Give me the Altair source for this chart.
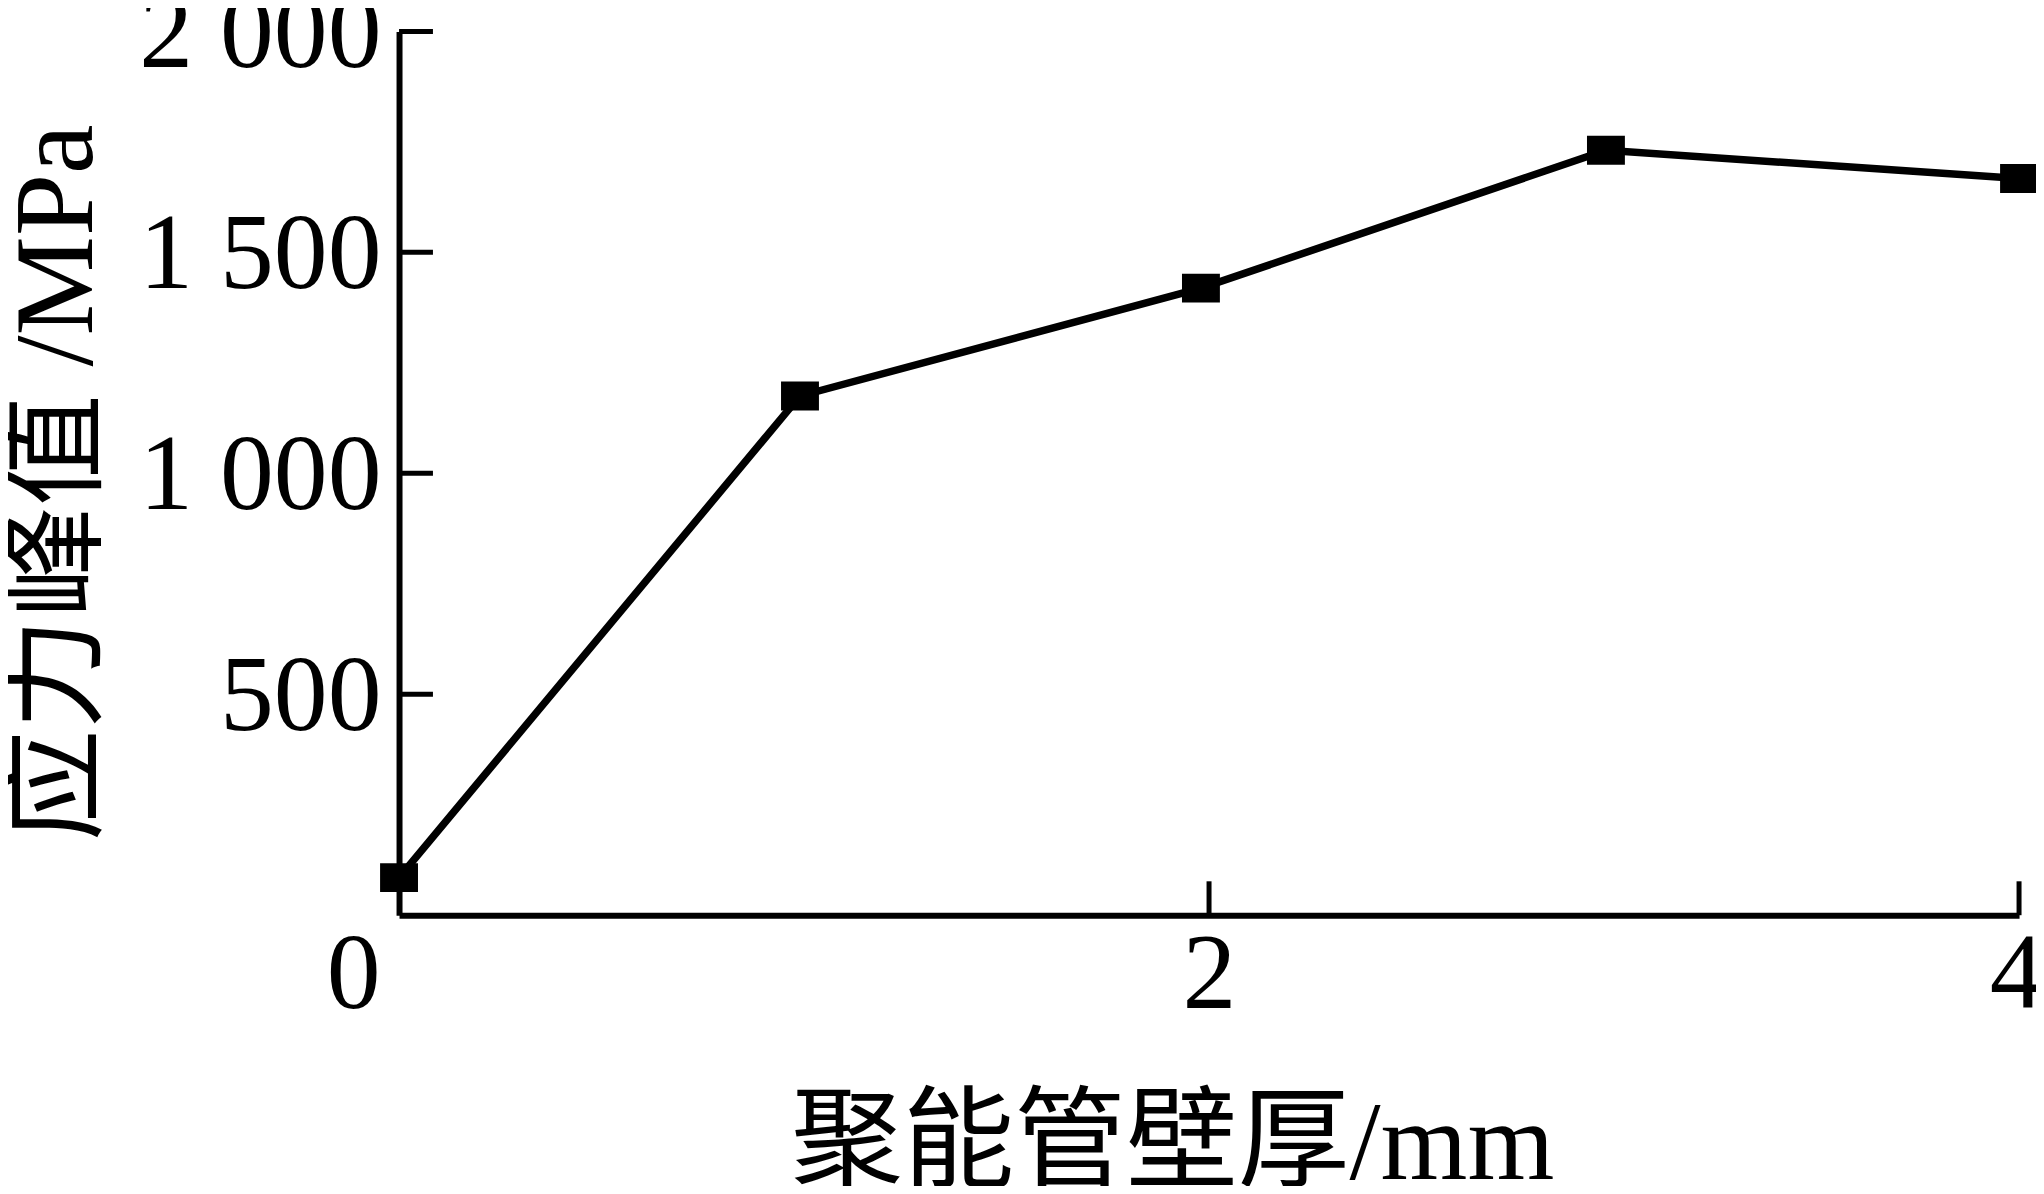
import altair as alt
import pandas as pd

# data
thickness = [0, 0.99, 1.98, 2.98, 4]
stress = [85, 1175, 1419, 1731, 1667]

x_tick_values = [0, 2, 4]
x_tick_labels = ["0", "2", "4"]
y_tick_values = [500, 1000, 1500, 2000]
y_tick_labels = ["500", "1 000", "1 500", "2 000"]

x_title = "聚能管壁厚/mm"
y_title = "应力峰值 /MPa"

W, H = 1624, 886
TICK_LEN = 34
FONT = "Liberation Serif, Noto Sans CJK SC"


def label_expr(values, labels):
    expr = "''"
    for v, l in reversed(list(zip(values, labels))):
        expr = f"datum.value == {v} ? '{l}' : ({expr})"
    return expr


df = pd.DataFrame({"t": thickness, "s": stress})
yt = pd.DataFrame({"v": y_tick_values})
xt = pd.DataFrame({"v": [v for v in x_tick_values if v != 0]})

xscale = alt.Scale(domain=[0, 4], nice=False, zero=False)
yscale = alt.Scale(domain=[0, 2000], nice=False)

xaxis = alt.Axis(
    values=x_tick_values,
    labelExpr=label_expr(x_tick_values, x_tick_labels),
    title=x_title,
    grid=False,
    ticks=False,
    tickSize=0,
    domainColor="black",
    domainWidth=6,
    labelFont=FONT,
    labelFontSize=108,
    labelColor="black",
    labelPadding=8,
    labelBaseline="top",
    labelFlush=False,
    labelOverlap=False,
    labelBound=False,
    labelLimit=0,
    labelOffset={
        "condition": [
            {"test": "datum.value == 0", "value": -46},
            {"test": "datum.value == 4", "value": -3},
        ],
        "value": 0,
    },
    titleFont=FONT,
    titleFontSize=112,
    titleFontWeight="normal",
    titleColor="black",
    titleX=775,
    titleY=264,
    titleAlign="center",
    titleBaseline="alphabetic",
    titleLimit=0,
)

yaxis = alt.Axis(
    values=y_tick_values,
    labelExpr=label_expr(y_tick_values, y_tick_labels),
    title=y_title,
    grid=False,
    ticks=False,
    tickSize=0,
    domainColor="black",
    domainWidth=6,
    labelFont=FONT,
    labelFontSize=108,
    labelColor="black",
    labelPadding=18,
    labelBaseline="middle",
    labelOffset=3,
    labelFlush=False,
    labelOverlap=False,
    labelBound=False,
    labelLimit=0,
    titleFont=FONT,
    titleFontSize=112,
    titleFontWeight="normal",
    titleColor="black",
    titleAngle=270,
    titleX=-342,
    titleY=452,
    titleAlign="center",
    titleBaseline="middle",
    titleLimit=0,
)

line = alt.Chart(df).mark_line(color="black", strokeWidth=7.5).encode(
    x=alt.X("t:Q", scale=xscale, axis=xaxis),
    y=alt.Y("s:Q", scale=yscale, axis=yaxis),
)

rect_shape = "M-1,-0.763L1,-0.763L1,0.763L-1,0.763Z"
points = alt.Chart(df).mark_point(
    shape=rect_shape, size=1444, filled=True, color="black", opacity=1, strokeWidth=0
).encode(
    x=alt.X("t:Q", scale=xscale),
    y=alt.Y("s:Q", scale=yscale),
)

yticks = alt.Chart(yt).mark_rule(color="black", strokeWidth=5).encode(
    y=alt.Y("v:Q", scale=yscale),
    x=alt.value(0),
    x2=alt.value(TICK_LEN),
)

xticks = alt.Chart(xt).mark_rule(color="black", strokeWidth=5).encode(
    x=alt.X("v:Q", scale=xscale),
    y=alt.value(H),
    y2=alt.value(H - TICK_LEN),
)

chart = (
    alt.layer(yticks, xticks, line, points)
    .properties(
        width=W,
        height=H,
        autosize=alt.AutoSizeParams(type="none"),
        padding={"left": 392, "top": 22, "right": 17, "bottom": 270},
        background="white",
    )
    .configure_view(stroke=None)
)

chart.save("out.html", embed_options={"renderer": "svg", "actions": False})
